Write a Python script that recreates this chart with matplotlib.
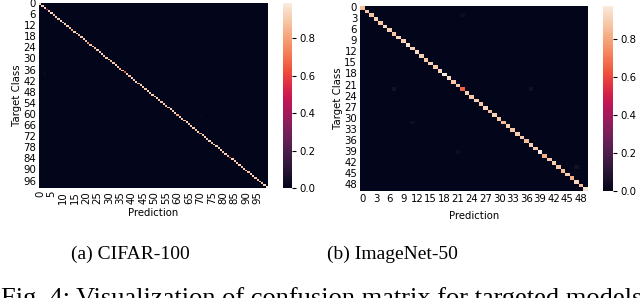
import matplotlib

matplotlib.use("Agg")
import matplotlib.pyplot as plt  # noqa: E402
import numpy as np  # noqa: E402
import seaborn as sns  # noqa: E402

# 対角成分（図から読み取った近似値）
cifar_diag = [
    0.92, 0.90, 0.88, 0.45, 0.90, 0.93, 0.88, 0.91, 0.90, 0.94,
    0.89, 0.92, 0.90, 0.88, 0.80, 0.91, 0.93, 0.85, 0.90, 0.92,
    0.88, 0.75, 0.90, 0.93, 0.86, 0.91, 0.89, 0.94, 0.88, 0.90,
    0.92, 0.87, 0.90, 0.93, 0.88, 0.82, 0.90, 0.62, 0.90, 0.88,
    0.93, 0.89, 0.91, 0.86, 0.92, 0.90, 0.88, 0.94, 0.89, 0.91,
    0.87, 0.93, 0.90, 0.88, 0.92, 0.85, 0.90, 0.93, 0.88, 0.91,
    0.80, 0.92, 0.89, 0.90, 0.94, 0.87, 0.91, 0.90, 0.88, 0.93,
    0.78, 0.90, 0.92, 0.88, 0.91, 0.86, 0.93, 0.90, 0.89, 0.92,
    0.88, 0.91, 0.87, 0.60, 0.92, 0.90, 0.88, 0.93, 0.89, 0.91,
    0.90, 0.87, 0.92, 0.94, 0.88, 0.90, 0.91, 0.89, 0.93, 0.987,
]
imagenet_diag = [
    0.85, 0.88, 0.87, 0.90, 0.88, 0.92, 0.90, 0.88, 0.92, 0.90,
    0.95, 0.90, 0.93, 0.90, 0.88, 0.90, 0.88, 0.92, 0.96, 0.93,
    0.88, 0.88, 0.65, 0.90, 0.88, 0.90, 0.88, 0.92, 0.85, 0.90,
    0.88, 0.85, 0.90, 0.88, 0.90, 0.88, 0.85, 0.90, 0.88, 0.974,
    0.82, 0.88, 0.90, 0.88, 0.85, 0.90, 0.82, 0.92, 0.85, 0.95,
]
# 目立つ非対角成分 (row, col, value)
imagenet_off = [(22, 7, 0.06), (22, 37, 0.05), (2, 22, 0.04), (43, 47, 0.05),
                (31, 11, 0.04), (39, 21, 0.04)]
cifar_off = [(38, 2, 0.04), (60, 70, 0.03)]

caption_a = "(a) CIFAR-100"
caption_b = "(b) ImageNet-50"
fig_caption = "Fig. 4: Visualization of confusion matrix for targeted models"


def build(diag, off):
    m = np.diag(np.array(diag, dtype=float))
    for r, c, v in off:
        m[r, c] = v
    return m


def main() -> None:
    fs = 7.3
    plt.rcParams["font.family"] = ["DejaVu Sans"]
    W, H = 640, 298
    fig = plt.figure(figsize=(W / 100, H / 100), dpi=100)

    def box(x0, y0, x1, y1):
        return [x0 / W, 1 - y1 / H, (x1 - x0) / W, (y1 - y0) / H]

    panels = [
        (build(cifar_diag, cifar_off), box(39, 3, 268, 188), box(283, 3, 292, 188), 5, 6, 90, 3),
        (build(imagenet_diag, imagenet_off), box(360, 6, 588, 191), box(603, 6, 613, 191), 3, 3, 0, 5),
    ]
    for mat, hbox, cbox, xstep, ystep, rot, xpad in panels:
        ax = fig.add_axes(hbox)
        cax = fig.add_axes(cbox)
        sns.heatmap(mat, ax=ax, cbar_ax=cax, cmap="rocket",
                    xticklabels=xstep, yticklabels=ystep)
        ax.tick_params(length=0, labelsize=fs, pad=2)
        ax.set_xticklabels(ax.get_xticklabels(), rotation=rot)
        ax.set_yticklabels(ax.get_yticklabels(), rotation=0)
        ax.set_xlabel("Prediction", fontsize=fs, labelpad=xpad)
        ax.set_ylabel("Target Class", fontsize=fs, labelpad=1)
        cax.tick_params(labelsize=fs, length=3, width=0.8, pad=2)
        cax.set_yticks([0.0, 0.2, 0.4, 0.6, 0.8])
        for s in cax.spines.values():
            s.set_visible(False)

    serif = ["Liberation Serif", "DejaVu Serif"]
    fig.text(130 / W, 1 - 254 / H, caption_a, ha="center", va="center",
             fontsize=14, family=serif)
    fig.text(392 / W, 1 - 254 / H, caption_b, ha="center", va="center",
             fontsize=14, family=serif)
    # 本文キャプションは下端で切れている
    fig.text(1 / W, 1 - 305 / H, fig_caption, ha="left", va="baseline",
             fontsize=19, family=serif)

    fig.savefig("out.png", dpi=100)
    plt.close(fig)


if __name__ == "__main__":
    main()
